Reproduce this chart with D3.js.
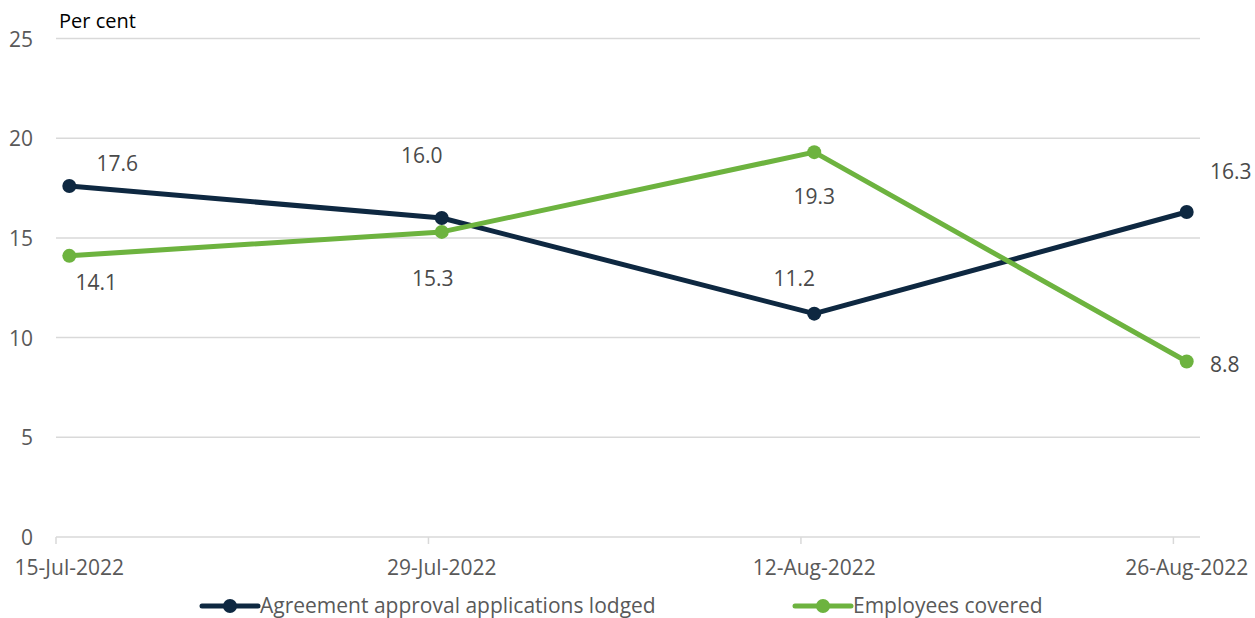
<!DOCTYPE html>
<meta charset="utf-8">
<style>
body { margin: 0; background: #fff; }
svg { font-family: "Open Sans", sans-serif; }
.grid line { stroke: #d9d9d9; stroke-width: 1.5px; }
.tick-label { fill: #595959; font-size: 21px; }
.data-label { fill: #4a4a4a; font-size: 21px; }
.legend-label { fill: #595959; font-size: 21px; }
</style>
<body>
<svg id="chart" width="1255" height="618"></svg>
<script src="https://d3js.org/d3.v7.min.js"></script>
<script>
// chart data
var dates = ["2022-07-15", "2022-07-29", "2022-08-12", "2022-08-26"];
var dateLabels = ["15-Jul-2022", "29-Jul-2022", "12-Aug-2022", "26-Aug-2022"];
var agreements = [17.6, 16.0, 11.2, 16.3];
var employees = [14.1, 15.3, 19.3, 8.8];
var yTicks = [0, 5, 10, 15, 20, 25];
var seriesNames = ["Agreement approval applications lodged", "Employees covered"];

var colors = ["#0e2841", "#6db33f"];

// label offsets relative to each point (layout only)
var labelOffsets = [
  [[48, -23], [-20, -63], [-20, -36], [44, -41]],
  [[27, 26], [-9, 46], [0, 44], [38, 2]]
];

var svg = d3.select("#chart");
var plotLeft = 56, plotRight = 1200, plotTop = 38.5, plotBottom = 537;

var parse = d3.utcParse("%Y-%m-%d");
var dayStarts = dates.map(parse);
var startDay = dayStarts[0];
var endDay = d3.utcDay.offset(dayStarts[dayStarts.length - 1], 1);

var x = d3.scaleUtc().domain([startDay, endDay]).range([plotLeft, plotRight]);
var y = d3.scaleLinear().domain([0, 25]).range([plotBottom, plotTop]);

function mid(d) { return x(d3.utcHour.offset(d, 12)); }

// gridlines
var grid = svg.append("g").attr("class", "grid");
grid.selectAll("line.yg")
  .data(yTicks)
  .enter().append("line")
  .attr("class", "yg")
  .attr("x1", plotLeft).attr("x2", plotRight)
  .attr("y1", d => y(d)).attr("y2", d => y(d));

// x tick marks
grid.selectAll("line.xt")
  .data(dayStarts)
  .enter().append("line")
  .attr("class", "xt")
  .attr("x1", d => x(d)).attr("x2", d => x(d))
  .attr("y1", plotBottom).attr("y2", plotBottom + 7);

// y labels
svg.append("g").selectAll("text")
  .data(yTicks)
  .enter().append("text")
  .attr("class", "tick-label")
  .attr("x", 33)
  .attr("y", d => y(d) + 8)
  .attr("text-anchor", "end")
  .text(d => d);

svg.append("text")
  .attr("x", 59).attr("y", 28)
  .attr("fill", "#000")
  .style("font-size", "20px")
  .text("Per cent");

// x labels
svg.append("g").selectAll("text")
  .data(dayStarts)
  .enter().append("text")
  .attr("class", "tick-label")
  .attr("x", d => mid(d))
  .attr("y", 575)
  .attr("text-anchor", "middle")
  .text((d, i) => dateLabels[i]);

var line = d3.line()
  .x((d, i) => mid(dayStarts[i]))
  .y(d => y(d));

[agreements, employees].forEach(function(values, s) {
  var g = svg.append("g");
  g.append("path")
    .attr("d", line(values))
    .attr("fill", "none")
    .attr("stroke", colors[s])
    .attr("stroke-width", 5)
    .attr("stroke-linejoin", "round");
  g.selectAll("circle")
    .data(values)
    .enter().append("circle")
    .attr("cx", (d, i) => mid(dayStarts[i]))
    .attr("cy", d => y(d))
    .attr("r", 7)
    .attr("fill", colors[s]);
  g.selectAll("text")
    .data(values)
    .enter().append("text")
    .attr("class", "data-label")
    .attr("x", (d, i) => mid(dayStarts[i]) + labelOffsets[s][i][0])
    .attr("y", (d, i) => y(d) + labelOffsets[s][i][1] + 8)
    .attr("text-anchor", "middle")
    .text(d => d.toFixed(1));
});

// legend
var legendX = [202, 795];
seriesNames.forEach(function(name, s) {
  var lg = svg.append("g").attr("transform", "translate(" + legendX[s] + ",606)");
  lg.append("line")
    .attr("x1", 0).attr("x2", 56)
    .attr("stroke", colors[s]).attr("stroke-width", 5)
    .attr("stroke-linecap", "round");
  lg.append("circle").attr("cx", 28).attr("r", 7).attr("fill", colors[s]);
  lg.append("text")
    .attr("class", "legend-label")
    .attr("x", 58).attr("y", 7)
    .text(name);
});
</script>
</body>
